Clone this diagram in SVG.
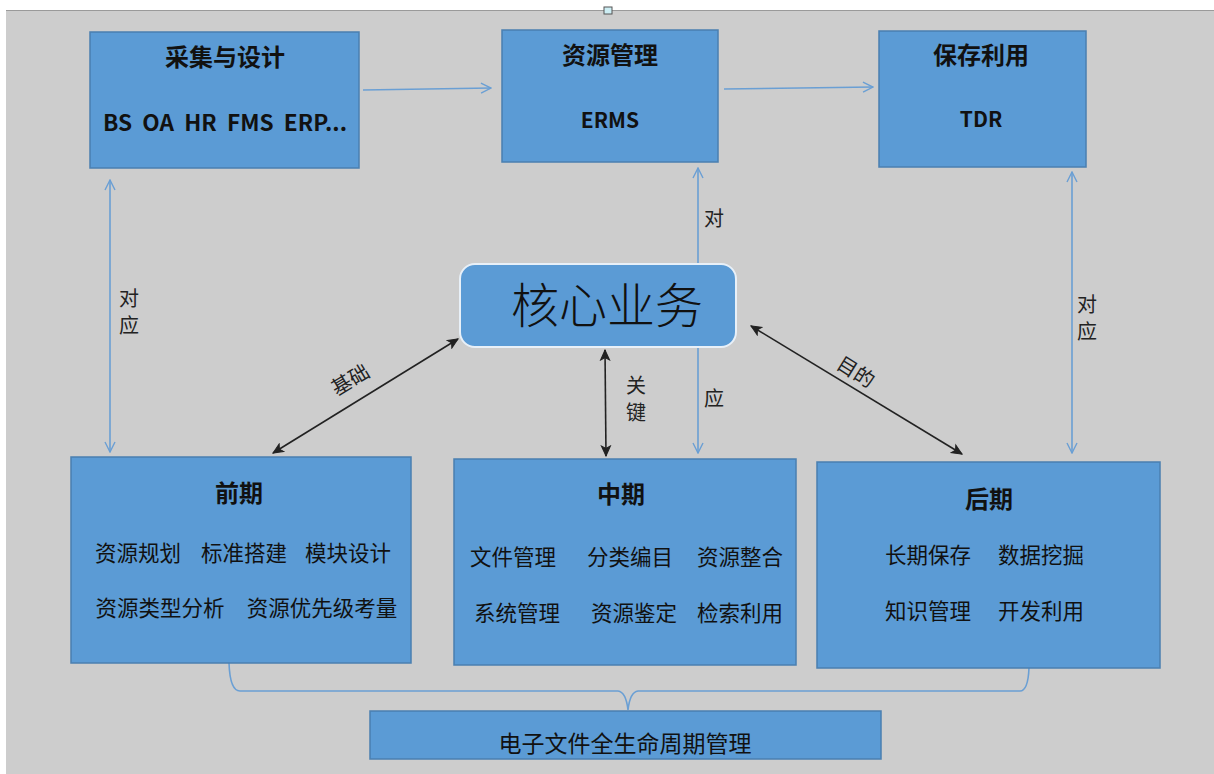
<svg xmlns="http://www.w3.org/2000/svg" width="1214" height="774" viewBox="0 0 1214 774">
<defs>
<style>
.box{fill:#5b9bd5;stroke:#4a7fb0;stroke-width:1.5}
.core{fill:#5b9bd5;stroke:#e8f0f8;stroke-width:2}
.t{font-family:"Noto Sans CJK SC","Liberation Sans",sans-serif;fill:#111;text-anchor:middle}
.b{font-weight:bold}
.lbl{font-family:"Noto Sans CJK SC",sans-serif;fill:#222;font-size:20px;text-anchor:middle}
.blue{stroke:#6a9fd4;stroke-width:1.6;fill:none}
.blk{stroke:#222;stroke-width:1.6;fill:none}
</style>
<marker id="ab" viewBox="0 0 12 12" refX="11" refY="6" markerWidth="12" markerHeight="12" markerUnits="userSpaceOnUse" orient="auto-start-reverse">
<path d="M1,1 L11,6 L1,11" fill="none" stroke="#6a9fd4" stroke-width="1.4"/>
</marker>
<marker id="ak" viewBox="0 0 12 12" refX="11" refY="6" markerWidth="12" markerHeight="12" markerUnits="userSpaceOnUse" orient="auto-start-reverse">
<path d="M1,1.5 L11,6 L1,10.5 L3.5,6 Z" fill="#222" stroke="#222" stroke-width="1"/>
</marker>
</defs>
<rect x="0" y="0" width="1214" height="774" fill="#ffffff"/>
<rect x="6" y="10" width="1208" height="764" fill="#cdcdcd"/>
<line x1="6" y1="10.5" x2="1214" y2="10.5" stroke="#9a9a9a" stroke-width="1"/>
<rect x="604" y="7" width="8" height="7" fill="#cdeef4" stroke="#555" stroke-width="1"/>

<g id="connectors">
<line class="blue" x1="363" y1="90" x2="491" y2="88" marker-end="url(#ab)"/>
<line class="blue" x1="724" y1="89" x2="873" y2="87" marker-end="url(#ab)"/>
<line class="blue" x1="110" y1="180" x2="110" y2="452" marker-start="url(#ab)" marker-end="url(#ab)"/>
<line class="blue" x1="698" y1="168" x2="698" y2="453" marker-start="url(#ab)" marker-end="url(#ab)"/>
<line class="blue" x1="1072" y1="172" x2="1072" y2="453" marker-start="url(#ab)" marker-end="url(#ab)"/>
<line class="blk" x1="458" y1="339" x2="273" y2="453" marker-start="url(#ak)" marker-end="url(#ak)"/>
<line class="blk" x1="605" y1="350" x2="606" y2="456" marker-start="url(#ak)" marker-end="url(#ak)"/>
<line class="blk" x1="751" y1="326" x2="962" y2="454" marker-start="url(#ak)" marker-end="url(#ak)"/>
<path class="blue" d="M229,663 Q230,691 240,691 L618,691 Q626,692 628,710 Q630,692 638,691 L1020,691 Q1028,691 1029,668"/>
<text class="lbl" x="129" y="306">对</text>
<text class="lbl" x="129" y="333">应</text>
<text class="lbl" x="714" y="226">对</text>
<text class="lbl" x="714" y="406">应</text>
<text class="lbl" x="1087" y="312">对</text>
<text class="lbl" x="1087" y="339">应</text>
<text class="lbl" x="636" y="393">关</text>
<text class="lbl" x="636" y="420">键</text>
<text class="lbl" transform="translate(354,386) rotate(-31)">基础</text>
<text class="lbl" transform="translate(852,378) rotate(32)">目的</text>
</g>

<g id="node-collect">
<rect class="box" x="90" y="32" width="269" height="136"/>
<text class="t b" x="225" y="66" font-size="24">采集与设计</text>
<text class="t b" x="225" y="131" font-size="22" xml:space="preserve" style="white-space:pre" textLength="244" lengthAdjust="spacingAndGlyphs">BS  OA  HR  FMS  ERP...</text>
</g>
<g id="node-resource">
<rect class="box" x="502" y="30" width="216" height="132"/>
<text class="t b" x="610" y="64" font-size="24">资源管理</text>
<text class="t b" x="610" y="128" font-size="21">ERMS</text>
</g>
<g id="node-preserve">
<rect class="box" x="879" y="31" width="207" height="136"/>
<text class="t b" x="981" y="64" font-size="24">保存利用</text>
<text class="t b" x="981" y="127" font-size="21">TDR</text>
</g>
<g id="node-core">
<rect class="core" x="460" y="264" width="276" height="83" rx="15" ry="15"/>
<text class="t" x="607" y="323" font-size="48" font-weight="300">核心业务</text>
</g>
<g id="node-early">
<rect class="box" x="71" y="457" width="340" height="206"/>
<text class="t b" x="239" y="502" font-size="24">前期</text>
<text class="t" x="138" y="561" font-size="21.5">资源规划</text>
<text class="t" x="244" y="561" font-size="21.5">标准搭建</text>
<text class="t" x="348" y="561" font-size="21.5">模块设计</text>
<text class="t" x="160" y="616" font-size="21.5">资源类型分析</text>
<text class="t" x="322" y="616" font-size="21.5">资源优先级考量</text>
</g>
<g id="node-mid">
<rect class="box" x="454" y="459" width="342" height="206"/>
<text class="t b" x="621" y="503" font-size="24">中期</text>
<text class="t" x="513" y="565" font-size="21.5">文件管理</text>
<text class="t" x="630" y="565" font-size="21.5">分类编目</text>
<text class="t" x="740" y="565" font-size="21.5">资源整合</text>
<text class="t" x="517" y="621" font-size="21.5">系统管理</text>
<text class="t" x="634" y="621" font-size="21.5">资源鉴定</text>
<text class="t" x="740" y="621" font-size="21.5">检索利用</text>
</g>
<g id="node-late">
<rect class="box" x="817" y="462" width="343" height="206"/>
<text class="t b" x="989" y="508" font-size="24">后期</text>
<text class="t" x="928" y="563" font-size="21.5">长期保存</text>
<text class="t" x="1041" y="563" font-size="21.5">数据挖掘</text>
<text class="t" x="928" y="619" font-size="21.5">知识管理</text>
<text class="t" x="1041" y="619" font-size="21.5">开发利用</text>
</g>
<g id="node-lifecycle">
<rect class="box" x="370" y="711" width="511" height="48"/>
<text class="t" x="625" y="752" font-size="23">电子文件全生命周期管理</text>
</g>
</svg>
